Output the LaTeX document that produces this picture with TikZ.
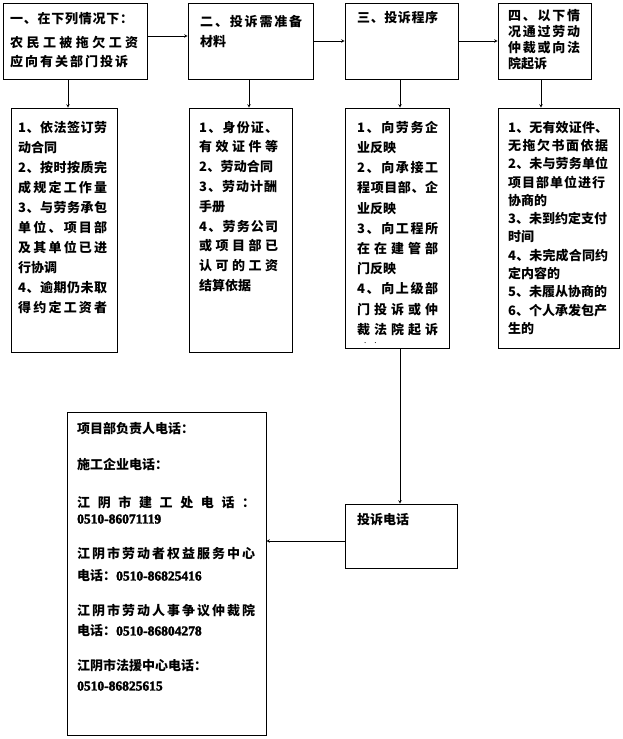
\documentclass[tikz,border=0pt]{standalone}
\usepackage{fontspec}
\setmainfont{Noto Sans CJK SC}
\newfontfamily\numfont[FakeBold=2.5]{Liberation Serif}
\usepackage{tikz}

% spread a line of characters over a given width
\makeatletter
\def\spr@end{\spr@end}
\def\spr@first#1{#1\spr@rest}
\def\spr@rest#1{\ifx#1\spr@end\else\hfil#1\expandafter\spr@rest\fi}
\newcommand{\spreadline}[2]{\hbox to #1pt{\spr@first#2\spr@end}}
\makeatother
\newcommand{\phonenum}[1]{{\numfont\fontsize{13.5}{20}\selectfont #1}}

\tikzset{
  box/.style={rectangle, draw=black, line width=0.6pt, inner sep=0pt},
  txt/.style={anchor=north west, inner sep=0pt, align=left,
    font=\bfseries\fontsize{13}{#1}\selectfont},
  txt/.default=20,
  arr/.style={-stealth, line width=0.6pt},
}

\begin{document}
\begin{tikzpicture}[x=1pt, y=-1pt]
\useasboundingbox (0,0) rectangle (622,739);

% top row
  \node[box, minimum width=144pt, minimum height=76pt] (cond) at (75,41) {};
  \node[box, minimum width=125pt, minimum height=76pt] (mat) at (250.5,41) {};
  \node[box, minimum width=113pt, minimum height=76pt] (proc) at (401.5,41) {};
  \node[box, minimum width=93pt, minimum height=76pt] (court) at (544.5,41) {};

  \node[txt=19] (condtext) at (10,12.6) {\spreadline{123}{一、在下列情况下：}\\[5pt]
    \spreadline{128}{农民工被拖欠工资}\\
    \spreadline{118}{应向有关部门投诉}};
  \node[txt=19.5] (mattext) at (200,15.6) {\spreadline{102}{二、投诉需准备}\\
    材料};
  \node[txt] (proctext) at (357,11) {\spreadline{81}{三、投诉程序}};
  \node[txt=16] (courttext) at (508,9) {\spreadline{72}{四、以下情}\\
    \spreadline{72}{况通过劳动}\\
    \spreadline{72}{仲裁或向法}\\
    院起诉};

% second row
  \node[box, minimum width=106pt, minimum height=244pt] (condlist) at (64,230) {};
  \node[box, minimum width=103pt, minimum height=244pt] (matlist) at (240.5,230) {};
  \node[box, minimum width=104pt, minimum height=240pt] (proclist) at (397,228) {};
  \node[box, minimum width=121pt, minimum height=240pt] (courtlist) at (558.5,228) {};

  \node[txt=20] (condlisttext) at (18,120.8) {\spreadline{89}{1、依法签订劳}\\
    动合同\\
    \spreadline{89}{2、按时按质完}\\
    \spreadline{89}{成规定工作量}\\
    \spreadline{89}{3、与劳务承包}\\
    \spreadline{89}{单位、项目部}\\
    \spreadline{89}{及其单位已进}\\
    行协调\\
    \spreadline{89}{4、逾期仍未取}\\
    \spreadline{89}{得约定工资者}};
  \node[txt=19.8] (matlisttext) at (199,120.8) {\spreadline{79}{1、身份证、}\\
    \spreadline{79}{有效证件等}\\
    \spreadline{74}{2、劳动合同}\\
    \spreadline{78}{3、劳动计酬}\\
    手册\\
    \spreadline{79}{4、劳务公司}\\
    \spreadline{79}{或项目部已}\\
    \spreadline{79}{认可的工资}\\
    结算依据};
  \node[txt=20.2] (proclisttext) at (357,120.8) {\spreadline{81}{1、向劳务企}\\
    业反映\\
    \spreadline{81}{2、向承接工}\\
    \spreadline{81}{程项目部、企}\\
    业反映\\
    \spreadline{81}{3、向工程所}\\
    \spreadline{81}{在在建管部}\\
    门反映\\
    \spreadline{81}{4、向上级部}\\
    \spreadline{81}{门投诉或仲}\\
    \spreadline{81}{裁法院起诉}};
  \node[anchor=base west, inner sep=0pt, font=\fontsize{8}{8}\selectfont] (dots) at (364,343) {.\hspace{8pt}.};
  \node[txt=18.3] (courtlisttext) at (508,120.8) {\spreadline{100}{1、无有效证件、}\\
    \spreadline{100}{无拖欠书面依据}\\
    \spreadline{100}{2、未与劳务单位}\\
    \spreadline{97}{项目部单位进行}\\
    协商的\\
    \spreadline{99}{3、未到约定支付}\\
    时间\\
    \spreadline{100}{4、未完成合同约}\\
    定内容的\\
    \spreadline{99}{5、未履从协商的}\\
    6、个人承发包产\\
    生的};

% bottom
  \node[box, minimum width=112pt, minimum height=64pt] (tel) at (401,536) {};
  \node[txt] (teltext) at (357,513) {投诉电话};

  \node[box, minimum width=199pt, minimum height=323pt] (phones) at (166.5,573.5) {};
  \node[txt=20] (phonestext) at (77,422) {项目部负责人电话：\\[16pt]
    施工企业电话：\\[18pt]
    \spreadline{178}{江阴市建工处电话：}\\[-4pt]
    \phonenum{0510-86071119}\\[15pt]
    \spreadline{178}{江阴市劳动者权益服务中心}\\[2pt]
    电话：\phonenum{0510-86825416}\\[15pt]
    \spreadline{178}{江阴市劳动人事争议仲裁院}\\
    电话：\phonenum{0510-86804278}\\[15pt]
    江阴市法援中心电话：\\
    \phonenum{0510-86825615}};

% arrows
  \draw[arr] ([yshift=5pt]cond.east) -- ([yshift=5pt]cond.east -| mat.west);
  \draw[arr] (mat.east) -- (proc.west);
  \draw[arr] (proc.east) -- (court.west);
  \draw[arr] ([xshift=-7pt]cond.south) -- ([xshift=-7pt]cond.south |- condlist.north);
  \draw[arr] ([xshift=-1.5pt]mat.south) -- ([xshift=-1.5pt]mat.south |- matlist.north);
  \draw[arr] ([xshift=-1.5pt]proc.south) -- ([xshift=-1.5pt]proc.south |- proclist.north);
  \draw[arr] ([xshift=-3.5pt]court.south) -- ([xshift=-3.5pt]court.south |- courtlist.north);
  \draw[arr] ([xshift=3pt]proclist.south) -- ([xshift=3pt]proclist.south |- tel.north);
  \draw[arr] ([yshift=-5pt]tel.west) -- ([yshift=-5pt]tel.west -| phones.east);
\end{tikzpicture}
\end{document}
